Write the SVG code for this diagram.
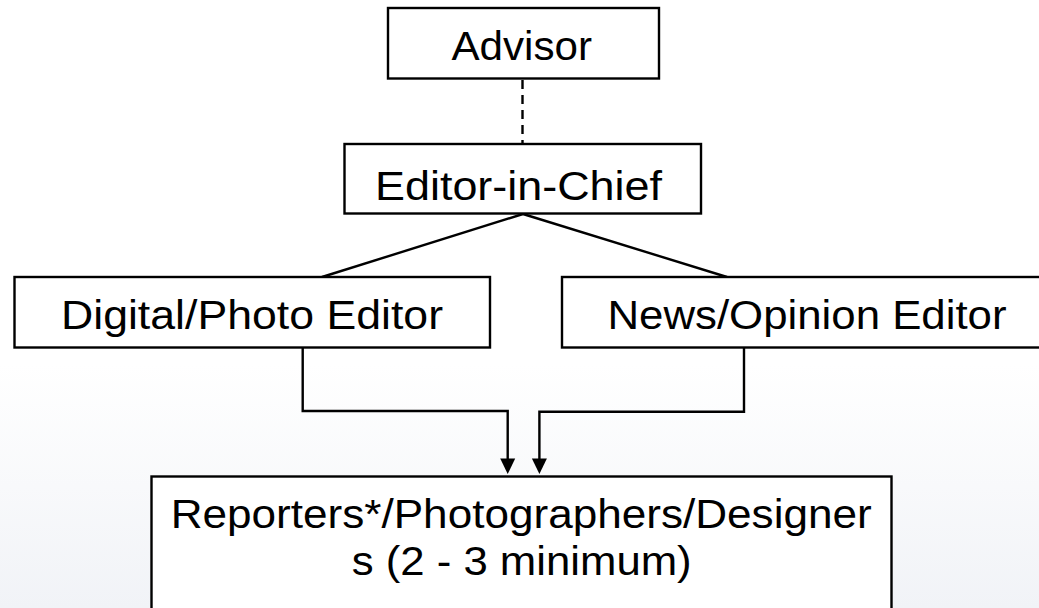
<svg xmlns="http://www.w3.org/2000/svg" width="1039" height="608" viewBox="0 0 1039 608">
  <defs>
    <linearGradient id="bg" x1="0" y1="0" x2="0" y2="1">
      <stop offset="0" stop-color="#ffffff"/>
      <stop offset="0.6" stop-color="#ffffff"/>
      <stop offset="1" stop-color="#f1f3f7"/>
    </linearGradient>
    <style>
      .box { fill: #ffffff; stroke: #000; stroke-width: 2.4; }
      .lbl { font-family: "Liberation Sans", Arial, sans-serif; font-size: 40px; fill: #000; }
      .conn { fill: none; stroke: #000; stroke-width: 2.4; }
      .head { fill: #000; }
    </style>
  </defs>
  <rect x="0" y="0" width="1039" height="608" fill="url(#bg)"/>

  <g id="connectors">
    <line class="conn" x1="522.5" y1="80" x2="522.5" y2="143" stroke-dasharray="9 6"/>
    <line class="conn" x1="523" y1="214" x2="322" y2="277"/>
    <line class="conn" x1="523" y1="214" x2="727" y2="277"/>
    <path class="conn" d="M302.7 347.5 V411 H507.7 V460"/>
    <path class="conn" d="M744 347.5 V411.7 H539.4 V460"/>
    <path class="head" d="M500.2 458.5 L515.2 458.5 L507.7 474 Z"/>
    <path class="head" d="M531.9 458.5 L546.9 458.5 L539.4 474 Z"/>
  </g>

  <g id="advisor">
    <rect class="box" x="388" y="8" width="271" height="70.5"/>
    <text class="lbl" x="451.5" y="60" textLength="140.5" lengthAdjust="spacingAndGlyphs">Advisor</text>
  </g>

  <g id="editor-in-chief">
    <rect class="box" x="344.5" y="144" width="356.5" height="69.5"/>
    <text class="lbl" x="375" y="199.5" textLength="287" lengthAdjust="spacingAndGlyphs">Editor-in-Chief</text>
  </g>

  <g id="digital-photo-editor">
    <rect class="box" x="14.5" y="277" width="475.5" height="70.5"/>
    <text class="lbl" x="61" y="329.3" textLength="382" lengthAdjust="spacingAndGlyphs">Digital/Photo Editor</text>
  </g>

  <g id="news-opinion-editor">
    <rect class="box" x="562" y="277" width="490" height="70.5"/>
    <text class="lbl" x="607.5" y="329.3" textLength="399" lengthAdjust="spacingAndGlyphs">News/Opinion Editor</text>
  </g>

  <g id="reporters">
    <rect class="box" x="151.5" y="476.5" width="740" height="150"/>
    <text class="lbl"><tspan x="170.7" y="528.3" textLength="701" lengthAdjust="spacingAndGlyphs">Reporters*/Photographers/Designer</tspan><tspan x="351.7" y="575" textLength="340" lengthAdjust="spacingAndGlyphs">s (2 - 3 minimum)</tspan></text>
  </g>
</svg>
